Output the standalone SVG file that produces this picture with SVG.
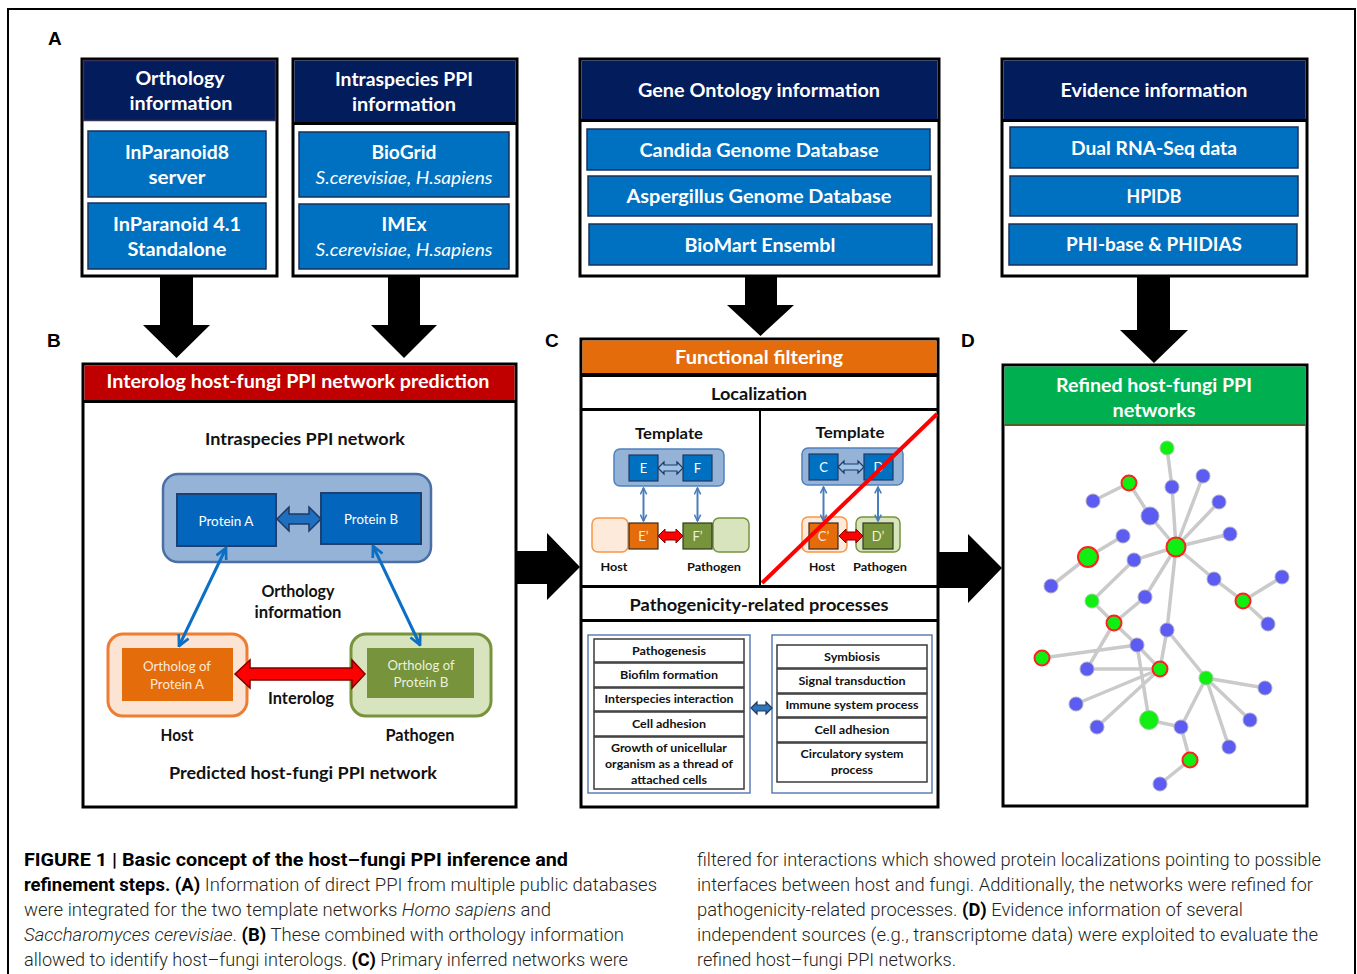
<svg xmlns="http://www.w3.org/2000/svg" width="1357" height="974" viewBox="0 0 1357 974">
<style>
.t{font-family:Lato,"Open Sans","Liberation Sans",sans-serif;font-weight:700;text-anchor:middle}
.w{fill:#ffffff}
.k{fill:#111111}
.it{font-style:italic;font-weight:400}
.rg{font-weight:400}
.box{fill:#ffffff;stroke:#000000;stroke-width:3}
.hdr{fill:#031c5c}
.ib{fill:#0070c0;stroke:#1a2f5a;stroke-width:1.5}
.big{fill:#000000}
.lbl{font-family:"Liberation Sans",Arial,sans-serif;font-weight:700;font-size:19px;fill:#000}
.cap{font-family:Roboto,"Liberation Sans",sans-serif;font-weight:300;font-size:17.5px;fill:#231f20}
.cb{font-weight:700;fill:#000}
.ci{font-style:italic}
.item{fill:#ffffff;stroke:#3a3a3a;stroke-width:1.5}
.cont{fill:#ffffff;stroke:#5b7fb5;stroke-width:1.5}
.edge{stroke:#cacaca;stroke-width:3.5;fill:none;stroke-linecap:round}
.nb{fill:#5c5cf2;stroke:#a9a9c8;stroke-width:1}
.ng{fill:#11ee11;stroke:#9ad09a;stroke-width:1}
.nr{fill:#11ee11;stroke:#ff2020;stroke-width:2}
.orth{stroke:#0b6fc6;stroke-width:3;fill:none}
.vt{stroke:#4a7ebb;stroke-width:2;fill:none}
</style>
<defs>
<marker id="ma" viewBox="0 0 10 10" refX="9" refY="5" markerWidth="4.5" markerHeight="4.5" orient="auto-start-reverse" markerUnits="strokeWidth">
<path d="M1,1 L9,5 L1,9" fill="none" stroke="#0b6fc6" stroke-width="2"/>
</marker>
<marker id="mb" viewBox="0 0 10 10" refX="9" refY="5" markerWidth="4" markerHeight="4" orient="auto-start-reverse" markerUnits="strokeWidth">
<path d="M1,1 L9,5 L1,9" fill="none" stroke="#4a7ebb" stroke-width="2"/>
</marker>
</defs>
<rect x="0" y="0" width="1357" height="974" fill="#ffffff"/>
<path d="M8,974 V9 H1355 V974" fill="none" stroke="#000" stroke-width="2"/>

<text class="lbl" x="48" y="45">A</text>
<text class="lbl" x="47" y="347">B</text>
<text class="lbl" x="545" y="347">C</text>
<text class="lbl" x="961" y="347">D</text>

<!-- Panel A -->
<g id="orthology-info">
<rect class="box" x="82" y="59" width="195" height="217"/>
<rect class="hdr" x="83.5" y="60.5" width="192" height="60" stroke="#3b2f55" stroke-width="1.5"/>
<text class="t w" x="180" y="85" font-size="19" textLength="89" lengthAdjust="spacingAndGlyphs">Orthology</text>
<text class="t w" x="181" y="110" font-size="19" textLength="103" lengthAdjust="spacingAndGlyphs">information</text>
<rect class="ib" x="88" y="131" width="178" height="66"/>
<text class="t w" x="177" y="159" font-size="19" textLength="104" lengthAdjust="spacingAndGlyphs">InParanoid8</text>
<text class="t w" x="177" y="184" font-size="19" textLength="57" lengthAdjust="spacingAndGlyphs">server</text>
<rect class="ib" x="88" y="203" width="178" height="66"/>
<text class="t w" x="177" y="231" font-size="19" textLength="128" lengthAdjust="spacingAndGlyphs">InParanoid 4.1</text>
<text class="t w" x="177" y="256" font-size="19" textLength="99" lengthAdjust="spacingAndGlyphs">Standalone</text>
</g>

<g id="intraspecies-info">
<rect class="box" x="293" y="59" width="224" height="217"/>
<rect class="hdr" x="294.5" y="60.5" width="221" height="63"/>
<rect x="293" y="122" width="224" height="3" fill="#000"/>
<text class="t w" x="404" y="86" font-size="19" textLength="138" lengthAdjust="spacingAndGlyphs">Intraspecies PPI</text>
<text class="t w" x="404" y="111" font-size="19" textLength="104" lengthAdjust="spacingAndGlyphs">information</text>
<rect class="ib" x="299" y="132" width="210" height="65"/>
<text class="t w" x="404" y="159" font-size="19" textLength="65" lengthAdjust="spacingAndGlyphs">BioGrid</text>
<text class="t w it" x="404" y="184" font-size="17" textLength="177" lengthAdjust="spacingAndGlyphs">S.cerevisiae, H.sapiens</text>
<rect class="ib" x="299" y="204" width="210" height="65"/>
<text class="t w" x="404" y="231" font-size="19" textLength="45" lengthAdjust="spacingAndGlyphs">IMEx</text>
<text class="t w it" x="404" y="256" font-size="17" textLength="177" lengthAdjust="spacingAndGlyphs">S.cerevisiae, H.sapiens</text>
</g>

<g id="go-info">
<rect class="box" x="580" y="59" width="359" height="217"/>
<rect class="hdr" x="581.5" y="60.5" width="356" height="60"/>
<rect x="580" y="119" width="359" height="3" fill="#000"/>
<text class="t w" x="759" y="97" font-size="19" textLength="242" lengthAdjust="spacingAndGlyphs">Gene Ontology information</text>
<rect class="ib" x="587" y="129" width="343" height="41"/>
<text class="t w" x="759" y="157" font-size="19" textLength="239" lengthAdjust="spacingAndGlyphs">Candida Genome Database</text>
<rect class="ib" x="588" y="176" width="343" height="40"/>
<text class="t w" x="759" y="203" font-size="19" textLength="265" lengthAdjust="spacingAndGlyphs">Aspergillus Genome Database</text>
<rect class="ib" x="589" y="224" width="343" height="41"/>
<text class="t w" x="760" y="252" font-size="19" textLength="151" lengthAdjust="spacingAndGlyphs">BioMart Ensembl</text>
</g>

<g id="evidence-info">
<rect class="box" x="1002" y="59" width="305" height="217"/>
<rect class="hdr" x="1003.5" y="60.5" width="302" height="60"/>
<rect x="1002" y="119" width="305" height="3" fill="#000"/>
<text class="t w" x="1154" y="97" font-size="19" textLength="187" lengthAdjust="spacingAndGlyphs">Evidence information</text>
<rect class="ib" x="1010" y="127" width="288" height="41"/>
<text class="t w" x="1154" y="155" font-size="19" textLength="166" lengthAdjust="spacingAndGlyphs">Dual RNA-Seq data</text>
<rect class="ib" x="1010" y="176" width="288" height="40"/>
<text class="t w" x="1154" y="203" font-size="19" textLength="55" lengthAdjust="spacingAndGlyphs">HPIDB</text>
<rect class="ib" x="1009" y="224" width="288" height="41"/>
<text class="t w" x="1154" y="251" font-size="19" textLength="176" lengthAdjust="spacingAndGlyphs">PHI-base &amp; PHIDIAS</text>
</g>

<!-- Panel B -->
<g id="panel-b">
<rect class="box" x="83" y="364" width="433" height="443"/>
<rect x="84.5" y="365.5" width="430" height="35" fill="#c00000"/>
<rect x="83" y="400" width="433" height="3" fill="#000"/>
<text class="t w" x="298" y="388" font-size="19" textLength="383" lengthAdjust="spacingAndGlyphs">Interolog host-fungi PPI network prediction</text>
<text class="t k" x="305" y="445" font-size="17" textLength="200" lengthAdjust="spacingAndGlyphs">Intraspecies PPI network</text>
<rect x="163" y="474" width="268" height="88" rx="15" fill="#95b3d7" stroke="#4a6fa5" stroke-width="2.5"/>
<g id="protein-a">
<rect x="177" y="494" width="99" height="52" fill="#0465bd" stroke="#1f3f70" stroke-width="2"/>
<text class="t w rg" x="226" y="526" font-size="13.5" textLength="55" lengthAdjust="spacingAndGlyphs">Protein A</text>
</g>
<g id="protein-b">
<rect x="321" y="493" width="100" height="51" fill="#0465bd" stroke="#1f3f70" stroke-width="2"/>
<text class="t w rg" x="371" y="524" font-size="13.5" textLength="54" lengthAdjust="spacingAndGlyphs">Protein B</text>
</g>
<text class="t k" x="298" y="597" font-size="17" textLength="73" lengthAdjust="spacingAndGlyphs">Orthology</text>
<text class="t k" x="298" y="618" font-size="17" textLength="87" lengthAdjust="spacingAndGlyphs">information</text>
<g id="host-ortholog">
<rect x="108" y="634" width="139" height="82" rx="15" fill="#fce4d4" stroke="#ed7d31" stroke-width="3"/>
<rect x="122" y="648" width="111" height="53" fill="#e46c0a"/>
<text class="t rg" x="177" y="671" font-size="13.5" fill="#fde9d9" textLength="68" lengthAdjust="spacingAndGlyphs">Ortholog of</text>
<text class="t rg" x="177" y="689" font-size="13.5" fill="#fde9d9" textLength="54" lengthAdjust="spacingAndGlyphs">Protein A</text>
</g>
<g id="pathogen-ortholog">
<rect x="351" y="634" width="140" height="82" rx="15" fill="#d7e4bd" stroke="#77933c" stroke-width="3"/>
<rect x="367" y="648" width="107" height="50" fill="#77933c"/>
<text class="t rg" x="421" y="670" font-size="13.5" fill="#ebf1de" textLength="67" lengthAdjust="spacingAndGlyphs">Ortholog of</text>
<text class="t rg" x="421" y="687" font-size="13.5" fill="#ebf1de" textLength="55" lengthAdjust="spacingAndGlyphs">Protein B</text>
</g>
<text class="t k" x="301" y="704" font-size="17" textLength="66" lengthAdjust="spacingAndGlyphs">Interolog</text>
<text class="t k" x="177" y="741" font-size="17" textLength="33" lengthAdjust="spacingAndGlyphs">Host</text>
<text class="t k" x="420" y="741" font-size="17" textLength="69" lengthAdjust="spacingAndGlyphs">Pathogen</text>
<text class="t k" x="303" y="779" font-size="17" textLength="268" lengthAdjust="spacingAndGlyphs">Predicted host-fungi PPI network</text>
</g>

<!-- Panel C -->
<g id="panel-c">
<rect class="box" x="581" y="339" width="357" height="468"/>
<rect x="582.5" y="340.5" width="354" height="33" fill="#e46c0a"/>
<rect x="581" y="373" width="357" height="4" fill="#000"/>
<text class="t w" x="759" y="364" font-size="19" textLength="168" lengthAdjust="spacingAndGlyphs">Functional filtering</text>
<text class="t k" x="759" y="400" font-size="17" textLength="96" lengthAdjust="spacingAndGlyphs">Localization</text>
<rect x="581" y="408" width="357" height="3" fill="#000"/>
<rect x="759" y="410" width="2" height="177" fill="#000"/>
<rect x="581" y="585" width="357" height="3" fill="#000"/>
<text class="t k" x="759" y="611" font-size="17" textLength="259" lengthAdjust="spacingAndGlyphs">Pathogenicity-related processes</text>
<rect x="581" y="619" width="357" height="3" fill="#000"/>

<g id="loc-left">
<text class="t k" x="669" y="439" font-size="16" textLength="68" lengthAdjust="spacingAndGlyphs">Template</text>
<rect x="614" y="449" width="110" height="37" rx="6" fill="#95b3d7" stroke="#4f81bd" stroke-width="1.5"/>
<rect x="629" y="455" width="29" height="26" fill="#0070c0" stroke="#1f3864" stroke-width="1.2"/>
<text class="t w rg" x="643.5" y="473" font-size="13">E</text>
<rect x="683" y="455" width="29" height="26" fill="#0070c0" stroke="#1f3864" stroke-width="1.2"/>
<text class="t w rg" x="697.5" y="473" font-size="13">F</text>
<polygon points="658,468 664,462 664,465 677,465 677,462 683,468 677,474 677,471 664,471 664,474" fill="#9dc3e6" stroke="#1f3864" stroke-width="1.2"/>
<rect x="592" y="518" width="36" height="34" rx="6" fill="#fdeada" stroke="#f79646" stroke-width="1.5"/>
<rect x="629" y="523" width="29" height="26" fill="#e46c0a" stroke="#3a2a1a" stroke-width="1.2"/>
<text class="t rg" x="643.5" y="541" font-size="13" fill="#fde9d9">E’</text>
<rect x="713" y="518" width="36" height="34" rx="6" fill="#d7e4bd" stroke="#77933c" stroke-width="1.5"/>
<rect x="683" y="523" width="29" height="26" fill="#77933c" stroke="#2f3a1a" stroke-width="1.2"/>
<text class="t rg" x="697.5" y="541" font-size="13" fill="#ebf1de">F’</text>
<polygon points="658,536 665,529 665,532 676,532 676,529 683,536 676,543 676,540 665,540 665,543" fill="#ff0000" stroke="#7f0000" stroke-width="1"/>
<text class="t k" x="614" y="571" font-size="12" textLength="27" lengthAdjust="spacingAndGlyphs">Host</text>
<text class="t k" x="714" y="571" font-size="12" textLength="54" lengthAdjust="spacingAndGlyphs">Pathogen</text>
</g>

<g id="loc-right">
<text class="t k" x="850" y="438" font-size="16" textLength="69" lengthAdjust="spacingAndGlyphs">Template</text>
<rect x="802" y="448" width="101" height="37" rx="6" fill="#95b3d7" stroke="#4f81bd" stroke-width="1.5"/>
<rect x="809" y="454" width="29" height="26" fill="#0070c0" stroke="#1f3864" stroke-width="1.2"/>
<text class="t w rg" x="823.5" y="472" font-size="13">C</text>
<rect x="864" y="454" width="29" height="26" fill="#0070c0" stroke="#1f3864" stroke-width="1.2"/>
<text class="t w rg" x="878.5" y="472" font-size="13">D</text>
<polygon points="838,467 844,461 844,464 858,464 858,461 864,467 858,473 858,470 844,470 844,473" fill="#9dc3e6" stroke="#1f3864" stroke-width="1.2"/>
<rect x="802" y="517" width="45" height="35" rx="6" fill="#fdeada" stroke="#f79646" stroke-width="1.5"/>
<rect x="809" y="523" width="29" height="26" fill="#e46c0a" stroke="#3a2a1a" stroke-width="1.2"/>
<text class="t rg" x="823.5" y="541" font-size="13" fill="#fde9d9">C’</text>
<rect x="856" y="517" width="44" height="35" rx="6" fill="#d7e4bd" stroke="#77933c" stroke-width="1.5"/>
<rect x="863" y="523" width="30" height="26" fill="#77933c" stroke="#2f3a1a" stroke-width="1.2"/>
<text class="t rg" x="878" y="541" font-size="13" fill="#ebf1de">D’</text>
<polygon points="839,536 846,529 846,532 856,532 856,529 863,536 856,543 856,540 846,540 846,543" fill="#ff0000" stroke="#7f0000" stroke-width="1"/>
<text class="t k" x="822" y="571" font-size="12" textLength="26" lengthAdjust="spacingAndGlyphs">Host</text>
<text class="t k" x="880" y="571" font-size="12" textLength="54" lengthAdjust="spacingAndGlyphs">Pathogen</text>
</g>

<g id="process-left">
<rect class="cont" x="588" y="635" width="162" height="158"/>
<rect class="item" x="594" y="639" width="150" height="23"/>
<text class="t k" x="669" y="655" font-size="12" textLength="74" lengthAdjust="spacingAndGlyphs">Pathogenesis</text>
<rect class="item" x="594" y="663" width="150" height="24"/>
<text class="t k" x="669" y="679" font-size="12" textLength="98" lengthAdjust="spacingAndGlyphs">Biofilm formation</text>
<rect class="item" x="594" y="688" width="150" height="23"/>
<text class="t k" x="669" y="703" font-size="12" textLength="129" lengthAdjust="spacingAndGlyphs">Interspecies interaction</text>
<rect class="item" x="594" y="712" width="150" height="24"/>
<text class="t k" x="669" y="728" font-size="12" textLength="74" lengthAdjust="spacingAndGlyphs">Cell adhesion</text>
<rect class="item" x="594" y="737" width="150" height="52"/>
<text class="t k" x="669" y="752" font-size="12" textLength="116" lengthAdjust="spacingAndGlyphs">Growth of unicellular</text>
<text class="t k" x="669" y="768" font-size="12" textLength="128" lengthAdjust="spacingAndGlyphs">organism as a thread of</text>
<text class="t k" x="669" y="784" font-size="12" textLength="76" lengthAdjust="spacingAndGlyphs">attached cells</text>
</g>
<g id="process-right">
<rect class="cont" x="772" y="635" width="160" height="158"/>
<rect class="item" x="777" y="645" width="150" height="23"/>
<text class="t k" x="852" y="661" font-size="12" textLength="56" lengthAdjust="spacingAndGlyphs">Symbiosis</text>
<rect class="item" x="777" y="669" width="150" height="24"/>
<text class="t k" x="852" y="685" font-size="12" textLength="107" lengthAdjust="spacingAndGlyphs">Signal transduction</text>
<rect class="item" x="777" y="694" width="150" height="23"/>
<text class="t k" x="852" y="709" font-size="12" textLength="133" lengthAdjust="spacingAndGlyphs">Immune system process</text>
<rect class="item" x="777" y="718" width="150" height="24"/>
<text class="t k" x="852" y="734" font-size="12" textLength="75" lengthAdjust="spacingAndGlyphs">Cell adhesion</text>
<rect class="item" x="777" y="743" width="150" height="39"/>
<text class="t k" x="852" y="758" font-size="12" textLength="103" lengthAdjust="spacingAndGlyphs">Circulatory system</text>
<text class="t k" x="852" y="774" font-size="12" textLength="42" lengthAdjust="spacingAndGlyphs">process</text>
</g>
</g>

<!-- Panel D -->
<g id="panel-d">
<rect class="box" x="1003" y="365" width="304" height="441"/>
<rect x="1004.5" y="366.5" width="301" height="58" fill="#00b050"/>
<rect x="1004.5" y="424" width="301" height="2" fill="#4f6228"/>
<text class="t w" x="1154" y="392" font-size="19" textLength="196" lengthAdjust="spacingAndGlyphs">Refined host-fungi PPI</text>
<text class="t w" x="1154" y="417" font-size="19" textLength="83" lengthAdjust="spacingAndGlyphs">networks</text>
<g id="network-edges">
<path class="edge" d="M1167,448 L1172,487 L1176,547 M1203,476 L1176,547 M1219,502 L1176,547 M1230,534 L1176,547 M1129,483 L1093,501 M1129,483 L1150,516 L1176,547 M1123,536 L1088,557 L1051,586 M1176,547 L1134,560 L1092,601 L1114,623 M1176,547 L1145,597 L1114,623 L1137,645 L1160,669 M1114,623 L1087,669 L1160,669 M1176,547 L1214,579 L1243,601 L1282,577 M1243,601 L1268,624 M1176,547 L1167,630 L1160,669 M1167,630 L1206,678 M1137,645 L1042,658 M1137,645 L1149,720 L1181,727 L1190,760 L1160,784 M1160,669 L1076,704 M1160,669 L1097,727 M1206,678 L1265,688 M1206,678 L1250,720 M1206,678 L1229,747 M1206,678 L1181,727"/>
</g>
<g id="network-nodes">
<circle class="ng" cx="1167" cy="448" r="7"/>
<circle class="nr" cx="1129" cy="483" r="7.5"/>
<circle class="nb" cx="1093" cy="501" r="7"/>
<circle class="nb" cx="1172" cy="487" r="7"/>
<circle class="nb" cx="1203" cy="476" r="7"/>
<circle class="nb" cx="1219" cy="502" r="7"/>
<circle class="nb" cx="1150" cy="516" r="9"/>
<circle class="nb" cx="1230" cy="534" r="7"/>
<circle class="nb" cx="1123" cy="536" r="7"/>
<circle class="nr" cx="1088" cy="557" r="10"/>
<circle class="nr" cx="1176" cy="547" r="9.5"/>
<circle class="nb" cx="1134" cy="560" r="7"/>
<circle class="nb" cx="1051" cy="586" r="7"/>
<circle class="nb" cx="1214" cy="579" r="7"/>
<circle class="nb" cx="1282" cy="577" r="7"/>
<circle class="ng" cx="1092" cy="601" r="7"/>
<circle class="nb" cx="1145" cy="597" r="7"/>
<circle class="nr" cx="1243" cy="601" r="7.5"/>
<circle class="nr" cx="1114" cy="623" r="7.5"/>
<circle class="nb" cx="1268" cy="624" r="7"/>
<circle class="nb" cx="1167" cy="630" r="7"/>
<circle class="nb" cx="1137" cy="645" r="7"/>
<circle class="nr" cx="1042" cy="658" r="7.5"/>
<circle class="nb" cx="1087" cy="669" r="7"/>
<circle class="nr" cx="1160" cy="669" r="7.5"/>
<circle class="ng" cx="1206" cy="678" r="7"/>
<circle class="nb" cx="1265" cy="688" r="7"/>
<circle class="nb" cx="1076" cy="704" r="7"/>
<circle class="nb" cx="1250" cy="720" r="7"/>
<circle class="ng" cx="1149" cy="720" r="9.5"/>
<circle class="nb" cx="1097" cy="727" r="7"/>
<circle class="nb" cx="1181" cy="727" r="7"/>
<circle class="nb" cx="1229" cy="747" r="7"/>
<circle class="nr" cx="1190" cy="760" r="7.5"/>
<circle class="nb" cx="1160" cy="784" r="7"/>
</g>
</g>

<!-- Connectors -->
<g id="connectors">
<polygon class="big" points="160,276 193,276 193,325 210,325 176.5,358 143,325 160,325"/>
<polygon class="big" points="388,276 420,276 420,325 437,325 404,358 371,325 388,325"/>
<polygon class="big" points="745,276 777,276 777,305 794,305 760.5,336 727,305 745,305"/>
<polygon class="big" points="1137,277 1170,277 1170,330 1188,330 1154,363 1120,330 1137,330"/>
<polygon class="big" points="517,551 547,551 547,533 580,567 547,600 547,584 517,584"/>
<polygon class="big" points="939,552 968,552 968,534 1002,568 968,603 968,588 939,588"/>
<polygon points="277,519 289,507 289,514 309,514 309,507 321,519 309,531 309,524 289,524 289,531" fill="#1f6fc0" stroke="#1f3864" stroke-width="1.5"/>
<line class="orth" x1="226" y1="548" x2="179" y2="646" marker-start="url(#ma)" marker-end="url(#ma)"/>
<line class="orth" x1="373" y1="546" x2="420" y2="645" marker-start="url(#ma)" marker-end="url(#ma)"/>
<polygon points="235,674 250,660 250,668 352,668 352,660 365,674 352,688 352,680 250,680 250,688" fill="#ff0000" stroke="#7f0000" stroke-width="1.5"/>
<line class="vt" x1="643.5" y1="488" x2="643.5" y2="521" marker-start="url(#mb)" marker-end="url(#mb)"/>
<line class="vt" x1="697.5" y1="488" x2="697.5" y2="521" marker-start="url(#mb)" marker-end="url(#mb)"/>
<line class="vt" x1="823.5" y1="487" x2="823.5" y2="521" marker-start="url(#mb)" marker-end="url(#mb)"/>
<line class="vt" x1="878" y1="487" x2="878" y2="521" marker-start="url(#mb)" marker-end="url(#mb)"/>
<polygon points="751,708 757,702 757,705 766,705 766,702 772,708 766,714 766,711 757,711 757,714" fill="#2e75b6" stroke="#1f3864" stroke-width="1.2"/>
<line x1="762" y1="583" x2="937" y2="414" stroke="#ff0000" stroke-width="4"/>
</g>

<!-- Caption -->
<g id="caption">
<text class="cap" x="24" y="866" textLength="544" lengthAdjust="spacingAndGlyphs"><tspan class="cb">FIGURE 1 | Basic concept of the host–fungi PPI inference and</tspan></text>
<text class="cap" x="24" y="891" textLength="633" lengthAdjust="spacingAndGlyphs"><tspan class="cb">refinement steps. (A)</tspan> Information of direct PPI from multiple public databases</text>
<text class="cap" x="24" y="916" textLength="527" lengthAdjust="spacingAndGlyphs">were integrated for the two template networks <tspan class="ci">Homo sapiens</tspan> and</text>
<text class="cap" x="24" y="941" textLength="600" lengthAdjust="spacingAndGlyphs"><tspan class="ci">Saccharomyces cerevisiae</tspan>. <tspan class="cb">(B)</tspan> These combined with orthology information</text>
<text class="cap" x="24" y="966" textLength="604" lengthAdjust="spacingAndGlyphs">allowed to identify host–fungi interologs. <tspan class="cb">(C)</tspan> Primary inferred networks were</text>
<text class="cap" x="697" y="866" textLength="624" lengthAdjust="spacingAndGlyphs">filtered for interactions which showed protein localizations pointing to possible</text>
<text class="cap" x="697" y="891" textLength="616" lengthAdjust="spacingAndGlyphs">interfaces between host and fungi. Additionally, the networks were refined for</text>
<text class="cap" x="697" y="916" textLength="546" lengthAdjust="spacingAndGlyphs">pathogenicity-related processes. <tspan class="cb">(D)</tspan> Evidence information of several</text>
<text class="cap" x="697" y="941" textLength="621" lengthAdjust="spacingAndGlyphs">independent sources (e.g., transcriptome data) were exploited to evaluate the</text>
<text class="cap" x="697" y="966" textLength="259" lengthAdjust="spacingAndGlyphs">refined host–fungi PPI networks.</text>
</g>
</svg>
